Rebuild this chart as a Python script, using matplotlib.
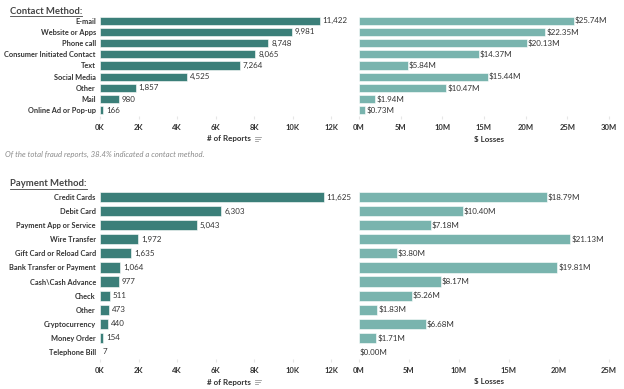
import matplotlib
matplotlib.use('Agg')
import matplotlib.pyplot as plt
from matplotlib.lines import Line2D
from matplotlib.ticker import FuncFormatter

# --- data ---
contact_methods = ['E-mail', 'Website or Apps', 'Phone call', 'Consumer Initiated Contact',
                   'Text', 'Social Media', 'Other', 'Mail', 'Online Ad or Pop-up']
contact_reports = [11422, 9981, 8748, 8065, 7264, 4525, 1857, 980, 166]
contact_losses = [25.74, 22.35, 20.13, 14.37, 5.84, 15.44, 10.47, 1.94, 0.73]  # $M

payment_methods = ['Credit Cards', 'Debit Card', 'Payment App or Service', 'Wire Transfer',
                   'Gift Card or Reload Card', 'Bank Transfer or Payment', 'Cash\\Cash Advance',
                   'Check', 'Other', 'Cryptocurrency', 'Money Order', 'Telephone Bill']
payment_reports = [11625, 6303, 5043, 1972, 1635, 1064, 977, 511, 473, 440, 154, 7]
payment_losses = [18.79, 10.40, 7.18, 21.13, 3.80, 19.81, 8.17, 5.26, 1.83, 6.68, 1.71, 0.00]  # $M

report_ticks = [0, 2000, 4000, 6000, 8000, 10000, 12000]
contact_loss_ticks = [0, 5, 10, 15, 20, 25, 30]
payment_loss_ticks = [0, 5, 10, 15, 20, 25]

W, H = 624, 389
DARK = '#3b7f79'
LIGHT = '#79b4ae'
TXT = '#333333'
FONT = 'Lato'

fig = plt.figure(figsize=(W / 100, H / 100), dpi=100, facecolor='white')


def px_axes(x0, x1, y_top, y_bot):
    return fig.add_axes([x0 / W, 1 - y_bot / H, (x1 - x0) / W, (y_bot - y_top) / H])


def style_axes(ax, ticks, fmt, xmax):
    ax.set_xlim(0, xmax)
    ax.set_xticks(ticks)
    ax.xaxis.set_major_formatter(FuncFormatter(fmt))
    ax.tick_params(axis='x', length=2, color='#e6e6e6', pad=4, labelsize=5.5,
                   labelcolor=TXT)
    for lab in ax.get_xticklabels():
        lab.set_fontfamily(FONT)
        lab.set_fontweight('bold')
    ax.tick_params(axis='y', length=0)
    for s in ax.spines.values():
        s.set_visible(False)


def draw_panel(y_top, y_bot, cats, reports, losses, loss_ticks, loss_max):
    n = len(cats)
    ypos = list(range(n))

    ax1 = px_axes(100, 331, y_top, y_bot)
    ax1.barh(ypos, reports, height=0.72, color=DARK, edgecolor='white', linewidth=0.4)
    ax1.set_ylim(n - 0.5, -0.5)
    ax1.set_yticks(ypos)
    ax1.set_yticklabels(cats, fontsize=5.3, fontweight='bold', color=TXT, family=FONT)
    ax1.tick_params(axis='y', pad=3)
    style_axes(ax1, report_ticks, lambda v, p: f'{v / 1000:.0f}K', 12000)
    for y, v in zip(ypos, reports):
        ax1.text(v + 150, y, f'{v:,}', va='center', ha='left', fontsize=5.8,
                 color=TXT, family=FONT)

    ax2 = px_axes(359, 609, y_top, y_bot)
    ax2.barh(ypos, losses, height=0.72, color=LIGHT, edgecolor='white', linewidth=0.4)
    ax2.set_ylim(n - 0.5, -0.5)
    ax2.set_yticks([])
    style_axes(ax2, loss_ticks, lambda v, p: f'{v:.0f}M', loss_max)
    for y, v in zip(ypos, losses):
        ax2.text(v + loss_max * 0.004, y, f'${v:.2f}M', va='center', ha='left',
                 fontsize=5.8, color=TXT, family=FONT)
    return ax1, ax2


def sort_icon(x, y):
    # small Tableau-style sort glyph next to the axis title
    for i, ln in enumerate([6, 4.5, 3]):
        fig.add_artist(Line2D([x / W, (x + ln) / W], [1 - (y + i * 2) / H] * 2,
                              color='#9a9a9a', lw=0.6))


def axis_title(xc, y, s):
    fig.text(xc / W, 1 - y / H, s, ha='center', va='center', fontsize=5.8,
             fontweight='bold', color=TXT, family=FONT)


def section_title(x, y, s):
    t = fig.text(x / W, 1 - y / H, s, fontsize=6.8, fontweight='bold',
                 color='#444444', family=FONT, va='center', ha='left')
    bb = t.get_window_extent(renderer=fig.canvas.get_renderer())
    fig.add_artist(Line2D([x / W, bb.x1 / W], [1 - (y + 5) / H] * 2,
                          color='#444444', lw=0.6))


# Contact method panel
section_title(10, 11, 'Contact Method:')
draw_panel(15, 116, contact_methods, contact_reports, contact_losses,
           contact_loss_ticks, 30)
axis_title(229, 139, '# of Reports')
sort_icon(255, 137)
axis_title(489, 139, '$ Losses')
fig.text(5 / W, 1 - 154 / H,
         'Of the total fraud reports, 38.4% indicated a contact method.',
         fontsize=5.6, style='italic', color='#8a8a8a', family=FONT, va='center')

# Payment method panel
section_title(10, 184, 'Payment Method:')
draw_panel(190, 359, payment_methods, payment_reports, payment_losses,
           payment_loss_ticks, 25)
axis_title(229, 382, '# of Reports')
sort_icon(255, 380)
axis_title(489, 382, '$ Losses')

fig.savefig('out.png', dpi=100, facecolor='white')
